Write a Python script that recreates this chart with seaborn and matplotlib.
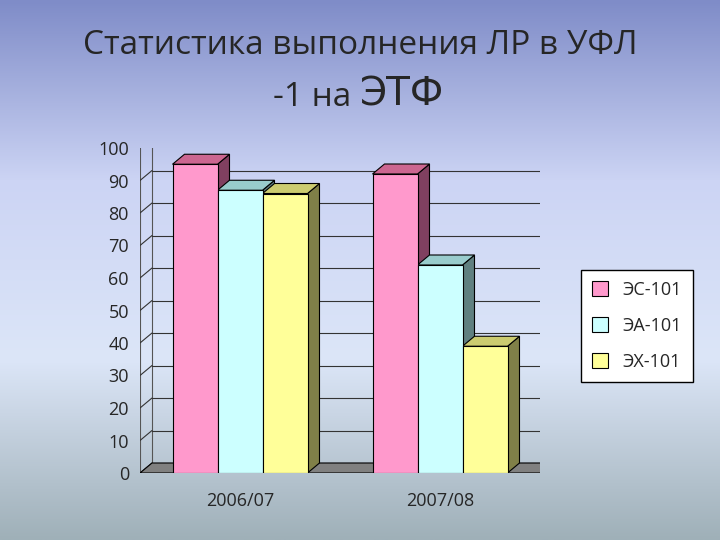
import numpy as np
import pandas as pd
import matplotlib
matplotlib.use("Agg")
import matplotlib.pyplot as plt
import matplotlib.transforms as mtransforms
from matplotlib.patches import Polygon, Rectangle
from matplotlib.colors import LinearSegmentedColormap
import seaborn as sns

years = ["2006/07", "2007/08"]
groups = ["ЭС-101", "ЭА-101", "ЭХ-101"]
values = {"ЭС-101": [95, 92], "ЭА-101": [87, 64], "ЭХ-101": [86, 39]}
front = ["#FF99CC", "#CCFFFF", "#FFFF99"]
side = ["#804060", "#608080", "#808048"]
top = ["#CC6690", "#99CCCC", "#CCCC70"]

df = pd.DataFrame([(y, g, values[g][i]) for g in groups for i, y in enumerate(years)],
                  columns=["year", "group", "value"])

sns.set_style("white")
plt.rcParams["font.family"] = ["Open Sans", "DejaVu Sans"]
fig = plt.figure(figsize=(7.2, 5.4), dpi=100)

bg = fig.add_axes([0, 0, 1, 1], zorder=-10)
grad = np.linspace(0, 1, 256)[:, None]
cm = LinearSegmentedColormap.from_list("bg", ["#7F8CC8", "#CCD4F4", "#DCE6F8", "#9FB0B8"])
bg.imshow(grad, aspect="auto", cmap=cm, extent=[0, 1, 0, 1])
bg.axis("off")

ax = fig.add_axes([140/720, 67/540, 400/720, 325/540])
ax.set_facecolor("none")
sns.barplot(data=df, x="year", y="value", hue="group", hue_order=groups,
            palette=front, saturation=1, width=0.675, gap=0, edgecolor="black", linewidth=0.8,
            ax=ax, legend=False, zorder=3)
ax.set_xlim(-0.5, 1.5)
ax.set_ylim(0, 100)
for s in ax.spines.values():
    s.set_visible(False)

DX, DY = 12, 10
off = mtransforms.offset_copy(ax.transData, fig=fig, x=DX, y=DY, units="dots")
ax.add_patch(Rectangle((-0.5, 0), 2, 100, transform=off, fill=False, edgecolor="#555555", lw=0.8, zorder=0))
for yv in range(10, 100, 10):
    ax.plot([-0.5, 1.5], [yv, yv], transform=off, color="#333333", lw=0.8, zorder=0)
ax.plot([-0.5, -0.5], [0, 100], color="#555555", lw=0.8, zorder=1)
for yv in range(0, 101, 10):
    p1 = ax.transData.transform((-0.5, yv))
    ax.add_line(plt.Line2D([p1[0], p1[0] + DX], [p1[1], p1[1] + DY], transform=None, color="#333333", lw=0.8, zorder=1))
p0 = ax.transData.transform((-0.5, 0)); p1 = ax.transData.transform((1.5, 0))
ax.add_patch(Polygon([p0, p1, (p1[0] + DX, p1[1] + DY), (p0[0] + DX, p0[1] + DY)], closed=True,
                     transform=None, facecolor="#808080", edgecolor="black", lw=0.8, zorder=1))

for k, cont in enumerate(ax.containers):
    for b in cont:
        x0, w, h = b.get_x(), b.get_width(), b.get_height()
        bl = ax.transData.transform((x0, 0)); br = ax.transData.transform((x0 + w, 0))
        tl = ax.transData.transform((x0, h)); tr = ax.transData.transform((x0 + w, h))
        ax.add_patch(Polygon([br, tr, (tr[0] + DX, tr[1] + DY), (br[0] + DX, br[1] + DY)], transform=None,
                             facecolor=side[k], edgecolor="black", lw=0.8, zorder=2))
        ax.add_patch(Polygon([tl, tr, (tr[0] + DX, tr[1] + DY), (tl[0] + DX, tl[1] + DY)], transform=None,
                             facecolor=top[k], edgecolor="black", lw=0.8, zorder=2))

ax.set_yticks(range(0, 101, 10))
ax.tick_params(axis="y", labelsize=13, pad=8, length=0)
ax.tick_params(axis="x", labelsize=13, pad=14, length=0)
ax.set_xlabel(""); ax.set_ylabel("")

handles = [Rectangle((0, 0), 1, 1, facecolor=c, edgecolor="black", lw=0.8) for c in front]
fig.legend(handles, groups, loc="center", bbox_to_anchor=(637/720, 1 - 326/540), fontsize=13,
           frameon=True, edgecolor="black", fancybox=False, handlelength=0.9, handleheight=0.9,
           labelspacing=1.0, borderpad=0.6, framealpha=1, facecolor="white")

fig.text(0.5, 1 - 45/540, "Статистика выполнения ЛР в УФЛ", ha="center", va="center", fontsize=24)
fig.text(0.5, 1 - 97/540, "-1 на ", ha="right", va="center", fontsize=24)
fig.text(0.5, 1 - 95/540, "ЭТФ", ha="left", va="center", fontsize=28, family=["DejaVu Sans"])

fig.savefig("out.png", dpi=100)
